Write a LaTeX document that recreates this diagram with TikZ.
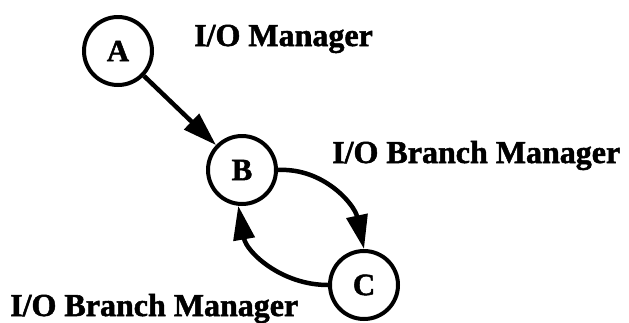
\documentclass[tikz,border=0pt]{standalone}
\usepackage{fontspec}
\setmainfont{Liberation Serif}
\newfontfamily\heavyserif{Liberation Serif Bold}[FakeBold=1.6]
\usetikzlibrary{arrows.meta}

\tikzset{
  state/.style={circle, draw, line width=4pt, minimum size=68pt, inner sep=0pt,
    font=\heavyserif\fontsize{31}{36}\selectfont},
  lbl/.style={anchor=base west, inner sep=0pt, font=\heavyserif\fontsize{32}{38}\selectfont},
  arr/.style={line width=4.5pt, -{Triangle[length=34pt, width=21pt]}},
}

\begin{document}
\begin{tikzpicture}[x=1pt, y=-1pt]
  \useasboundingbox (0,0) rectangle (629,322);

  % states
  \node[state] (A) at (118,51) {A};
  \node[state] (B) at (242,170) {B};
  \node[state] (C) at (364,285) {C};

  % labels
  \node[lbl] (lA) at (194,46) {I/O Manager};
  \node[lbl] (lB) at (332,163) {I/O Branch Manager};
  \node[lbl] (lC) at (10,316) {I/O Branch Manager};

  % transitions
  \draw[arr] (A) -- (B);
  \draw[arr] (B.east) to[out=3, in=102] (C.north);
  \draw[arr] (C.west) to[out=180, in=-80] (B.-96);
\end{tikzpicture}
\end{document}
